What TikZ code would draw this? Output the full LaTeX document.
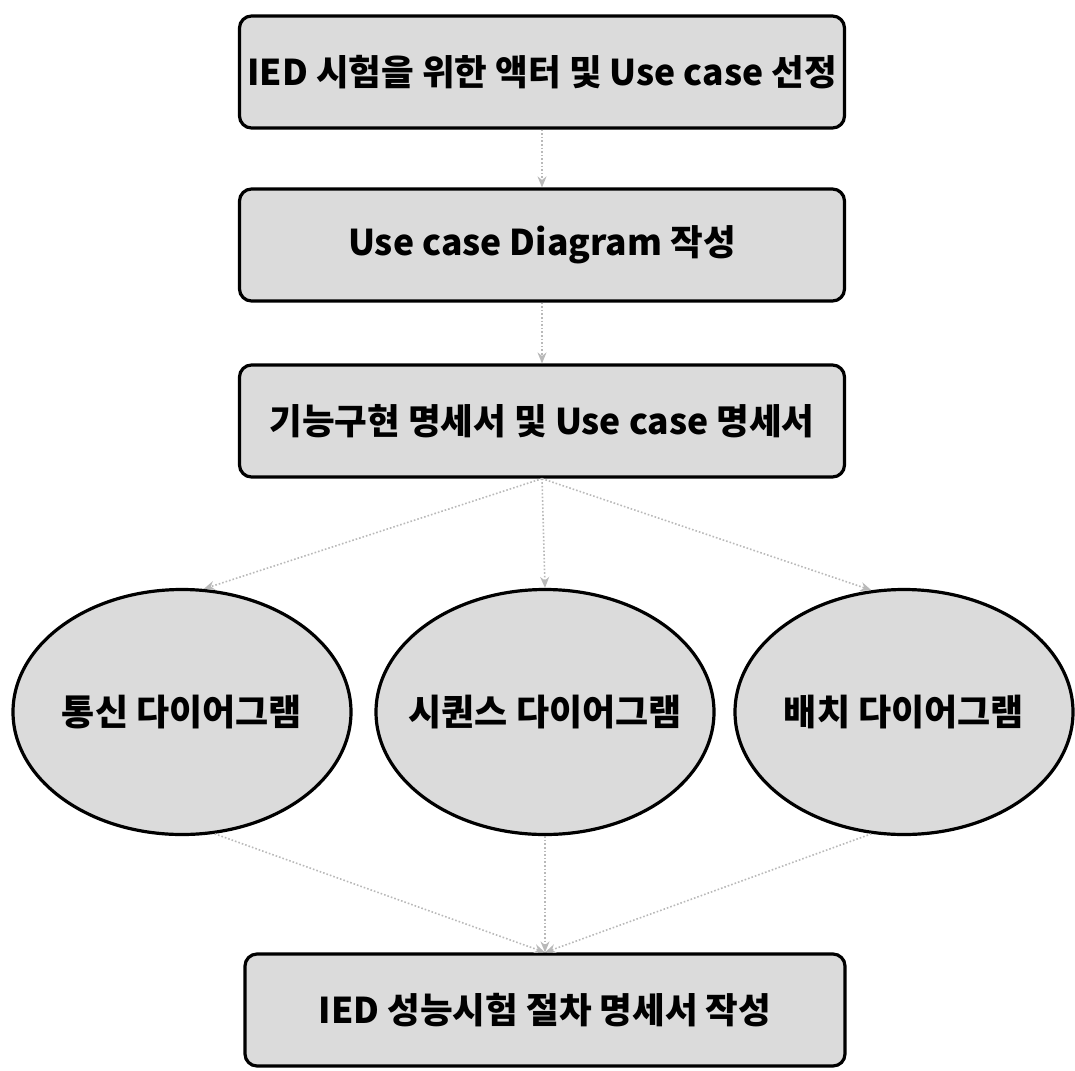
\documentclass[tikz,border=0pt]{standalone}
\usepackage{fontspec}
\setmainfont{Noto Sans CJK KR}
\usetikzlibrary{shapes.geometric,arrows.meta}
\begin{document}
\begin{tikzpicture}[x=1pt,y=-1pt,
  box/.style={draw=black, line width=3.2pt, rounded corners=12pt, fill=gray!28,
    minimum width=605pt, minimum height=112pt, inner xsep=-20pt, inner ysep=0pt,
    font=\fontsize{35.5}{42}\selectfont\bfseries},
  ell/.style={ellipse, draw=black, line width=3.2pt, fill=gray!28,
    minimum width=338pt, minimum height=245pt, inner xsep=-60pt, inner ysep=0pt,
    font=\fontsize{36}{42}\selectfont\bfseries},
  conn/.style={draw=gray!55, line width=1.6pt, dotted,
    -{Stealth[length=11pt,width=9pt]}}]
\useasboundingbox (0,0) rectangle (1075,1070);
\node[box] (b1) at (542,72) {IED 시험을 위한 액터 및 Use case 선정};
\node[box] (b2) at (542,245) {Use case Diagram 작성};
\node[box] (b3) at (542,421) {기능구현 명세서 및 Use case 명세서};
\node[ell] (e1) at (182,712) {통신 다이어그램};
\node[ell] (e2) at (545,712) {시퀀스 다이어그램};
\node[ell] (e3) at (904,712) {배치 다이어그램};
\node[box, minimum width=600pt] (b4) at (545,1010) {IED 성능시험 절차 명세서 작성};
\draw[conn] (b1.south) -- (b2.north);
\draw[conn] (b2.south) -- (b3.north);
\draw[conn] (b3.south) -- (e1.80);
\draw[conn] (b3.south) -- (e2.north);
\draw[conn] (b3.south) -- (e3.105);
\draw[conn] (e1.-75) -- (b4.north);
\draw[conn] (e2.south) -- (b4.north);
\draw[conn] (e3.-105) -- (b4.north);
\end{tikzpicture}
\end{document}
